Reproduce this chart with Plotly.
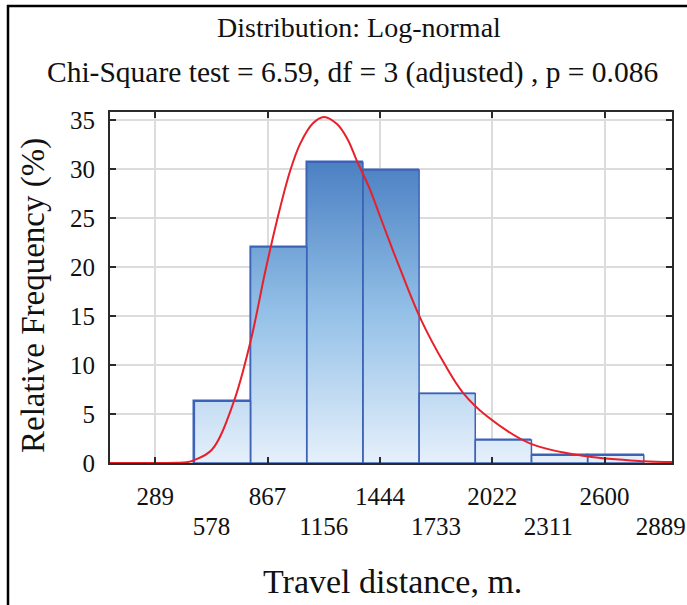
import plotly.graph_objects as go

# ---- data ----
tick_vals = [288.9, 577.8, 866.7, 1155.6, 1444.5, 1733.4, 2022.3, 2311.2, 2600.1, 2889.0]
tick_labels = ["289", "578", "867", "1156", "1444", "1733", "2022", "2311", "2600", "2889"]
y_ticks = [0, 5, 10, 15, 20, 25, 30, 35]

bin_left = [490, 779, 1068, 1357, 1646, 1935, 2224, 2513]
bin_right = [779, 1068, 1357, 1646, 1935, 2224, 2513, 2802]
rel_freq = [6.30, 22.05, 30.71, 29.92, 7.09, 2.36, 0.79, 0.79]

curve_x = [56, 300, 350, 400, 450, 490, 580, 690, 780, 854, 914, 982, 1034, 1100,
           1156, 1225, 1280, 1327, 1390, 1445, 1500, 1545, 1652, 1780, 1871, 1994,
           2222, 2510, 2800, 2947]
curve_y = [0, 0, 0.0, 0.02, 0.08, 0.3, 1.35, 6.1, 12.5, 19.5, 24.7, 29.8, 32.6, 34.7,
           35.35, 34.6, 33.0, 30.8, 28.1, 25.2, 22.3, 20.0, 14.8, 10.0, 7.2, 4.8,
           1.95, 0.68, 0.18, 0.09]

# ---- layout geometry (pixels) ----
W, H = 687, 605
L, R, T, B = 110, 672, 112, 463
PW, PH = R - L, B - T


def pxx(px):
    return (px - L) / PW


def pxy(py):
    return (B - py) / PH


FONT = "Liberation Serif"
INK = "#111111"
BAR_EDGE = "#3d63b8"

fig = go.Figure()

# bars (kept as a bar trace; the gradient-filled outline trace below is drawn over it)
centers = [(l + r) / 2 for l, r in zip(bin_left, bin_right)]
widths = [r - l for l, r in zip(bin_left, bin_right)]
fig.add_trace(go.Bar(
    x=centers, y=rel_freq, width=widths,
    marker=dict(color="rgba(0,0,0,0)", line=dict(color=BAR_EDGE, width=1.5)),
    hoverinfo="skip", showlegend=False))

# gradient fill + outlines of the histogram bars
poly_x, poly_y = [], []
for l, r, h in zip(bin_left, bin_right, rel_freq):
    poly_x += [l, l, r, r, l, None]
    poly_y += [0, h, h, 0, 0, None]
fig.add_trace(go.Scatter(
    x=poly_x, y=poly_y, mode="lines", fill="toself",
    line=dict(width=1.5, color=BAR_EDGE),
    fillgradient=dict(type="vertical",
                      colorscale=[[0, "#e6f0fb"], [0.5, "#93c0e7"], [1, "#4a7fc2"]],
                      start=0, stop=31),
    hoverinfo="skip", showlegend=False))

# fitted log-normal curve
fig.add_trace(go.Scatter(
    x=curve_x, y=curve_y, mode="lines", line=dict(color="#e8202a", width=2, shape="spline"),
    showlegend=False))

# invisible trace so the second (staggered-label) x axis is drawn
fig.add_trace(go.Scatter(x=[tick_vals[1]], y=[0], xaxis="x2", mode="markers",
                         marker=dict(opacity=0), hoverinfo="skip", showlegend=False))

axis_common = dict(showgrid=True, gridcolor="#dcdcdc", gridwidth=2,
                   showline=True, linecolor="#2a2a2a", linewidth=2, mirror="ticks",
                   ticks="inside", ticklen=6, tickwidth=2, tickcolor="#2a2a2a",
                   zeroline=False, automargin=False,
                   tickfont=dict(family=FONT, size=25, color=INK))

fig.update_layout(
    width=W, height=H, autosize=False,
    margin=dict(l=L, r=W - R, t=T, b=H - B, pad=0),
    paper_bgcolor="white", plot_bgcolor="white",
    font=dict(family=FONT, color=INK, size=25),
    bargap=0,
    xaxis=dict(range=[56, 2947], tickvals=tick_vals[0::2], ticktext=tick_labels[0::2],
               ticklabelstandoff=10, **axis_common),
    xaxis2=dict(range=[56, 2947], overlaying="x", side="bottom", anchor="y",
                tickvals=tick_vals[1::2], ticktext=tick_labels[1::2],
                showgrid=False, showline=False, zeroline=False, ticks="", automargin=False,
                ticklabelstandoff=46, tickfont=dict(family=FONT, size=25, color=INK)),
    yaxis=dict(range=[0, 35.85], tickvals=y_ticks, ticklabelstandoff=8, **axis_common),
    annotations=[
        dict(text="Distribution: Log-normal", x=pxx(359), y=pxy(28), xref="paper", yref="paper",
             showarrow=False, xanchor="center", yanchor="middle",
             font=dict(family=FONT, size=28, color=INK)),
        dict(text="Chi-Square test = 6.59, df = 3 (adjusted) , p = 0.086", x=pxx(352), y=pxy(73),
             xref="paper", yref="paper", showarrow=False, xanchor="center", yanchor="middle",
             font=dict(family=FONT, size=29.5, color=INK)),
        dict(text="Travel distance, m.", x=pxx(392), y=pxy(581), xref="paper", yref="paper",
             showarrow=False, xanchor="center", yanchor="middle",
             font=dict(family=FONT, size=34, color=INK)),
        dict(text="Relative Frequency (%)", x=pxx(33), y=pxy(296), xref="paper", yref="paper",
             showarrow=False, xanchor="center", yanchor="middle", textangle=-90,
             font=dict(family=FONT, size=33, color=INK)),
    ],
    shapes=[
        dict(type="line", xref="paper", yref="paper", x0=pxx(7), x1=pxx(W + 5), y0=pxy(6), y1=pxy(6),
             line=dict(color="black", width=2.5)),
        dict(type="line", xref="paper", yref="paper", x0=pxx(8), x1=pxx(8), y0=pxy(5), y1=pxy(H + 5),
             line=dict(color="black", width=2.5)),
    ],
)

fig.write_html("out.html", config={"displayModeBar": False},
               post_script="document.body.style.margin='0';document.body.style.overflow='hidden';")
